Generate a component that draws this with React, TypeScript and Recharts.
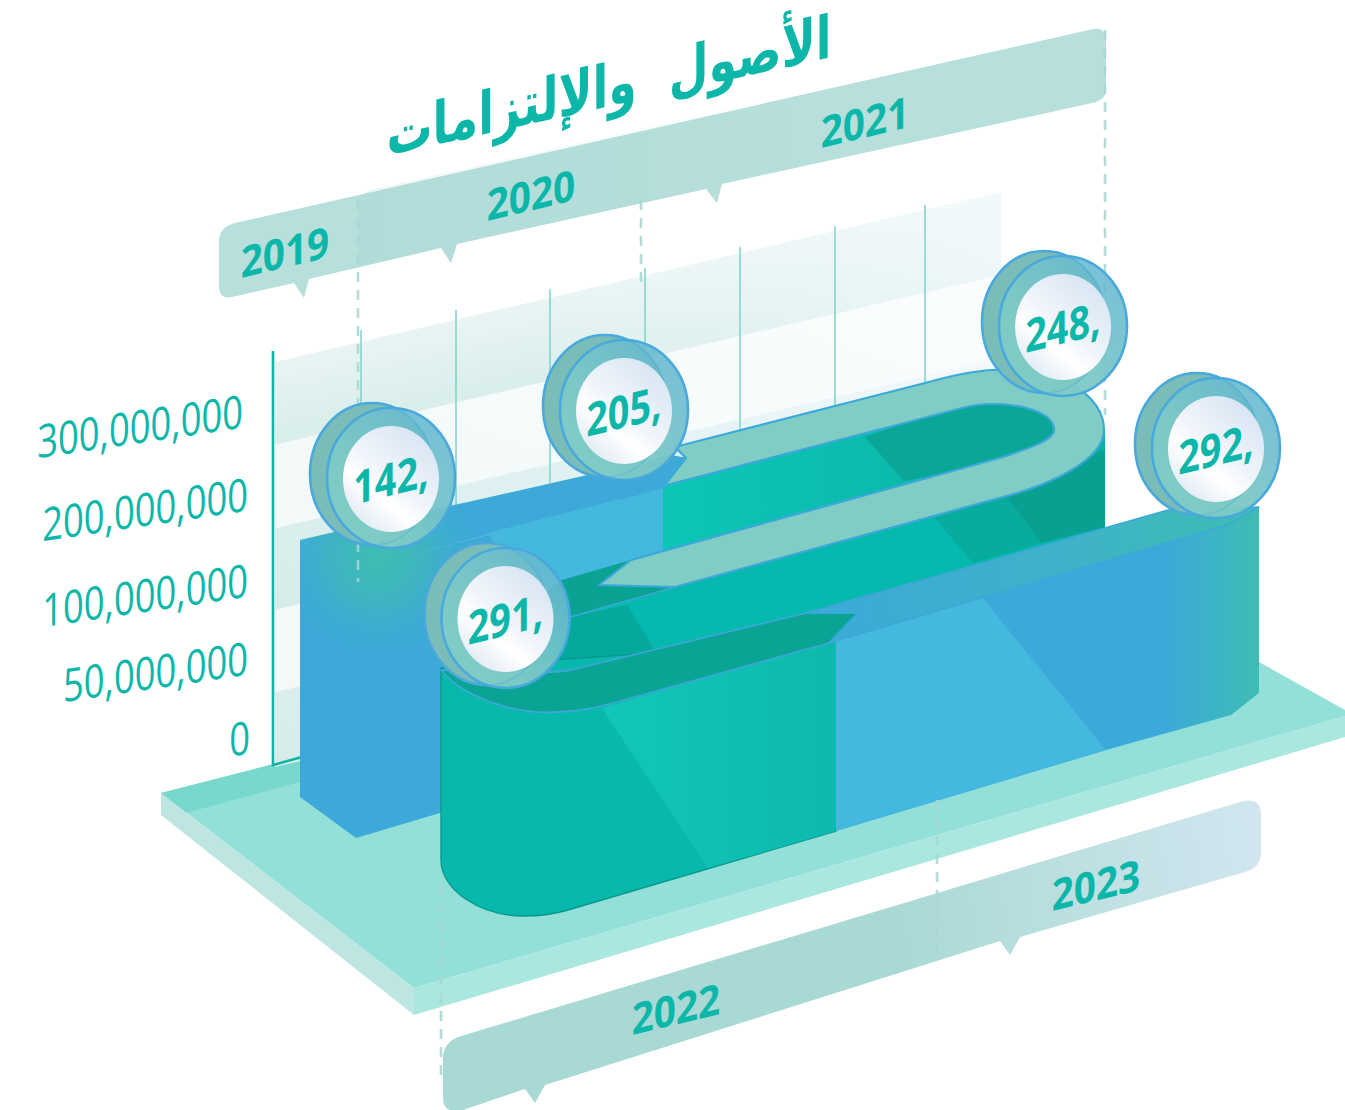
import React from 'react';
import { ComposedChart, Line, XAxis, YAxis, Customized } from 'recharts';

// ---- data ----
const backYears = [2019, 2020, 2021];
const backValues = [142000000, 205000000, 248000000];
const frontYears = [2022, 2023];
const frontValues = [291000000, 292000000];
const axisTicks = [0, 50000000, 100000000, 200000000, 300000000];
const chartTitle = 'الأصول  والإلتزامات';

const backRows = backYears.map((year, i) => ({ year, value: backValues[i] }));
const frontRows = frontYears.map((year, i) => ({ year, value: frontValues[i] }));

// ---- isometric layout: the picture warps its axes, so each axis gets a piecewise scale ----
const W = 1345;
const H = 1110;
function warp(domainStops: number[], pixelStops: number[], full: number, flip: boolean) {
  const frac = pixelStops.map((p) => (flip ? (full - p) / full : p / full));
  const make = (dom: number[], ran: number[]) => {
    const s: any = (v: number) => {
      let i = 0;
      while (i < domainStops.length - 2 && v > domainStops[i + 1]) i += 1;
      const t = (v - domainStops[i]) / (domainStops[i + 1] - domainStops[i]);
      const f = frac[i] + (frac[i + 1] - frac[i]) * t;
      return ran[0] + (ran[1] - ran[0]) * f;
    };
    s.domain = (d?: number[]) => (d ? make(d, ran) : dom);
    s.range = (r?: number[]) => (r ? make(dom, r) : ran);
    s.copy = () => make(dom, ran);
    s.ticks = () => domainStops;
    s.tickFormat = () => (v: number) => String(v);
    return s;
  };
  return make([domainStops[0], domainStops[domainStops.length - 1]], [0, 1]);
}
const backX = warp(backYears, [391, 624, 1063], W, false);
const backY = warp(backValues, [479, 411, 327], H, true);
const frontX = warp(frontYears, [505.5, 1216], W, false);
const frontY = warp(frontValues, [619, 449], H, true);
const tickY = warp(axisTicks, [737, 658, 580, 494, 411], H, true);
const tickRight: Record<number, number> = { 0: 250, 50000000: 248, 100000000: 248, 200000000: 248, 300000000: 243 };

const TEAL_TEXT = '#0cb7a9';
const EDGE = '#3ca8d8';
const NUM_FONT = '"Open Sans", "Noto Sans", sans-serif';

const Poly = ({ d, fill, stroke, sw }: any) => (
  <path d={d} fill={fill} stroke={stroke || 'none'} strokeWidth={sw || 0} strokeLinejoin="round" />
);

const wallSlope = 0.234;
const bandPath = (a: number, b: number) => {
  const x0 = 275;
  const x1 = 1001;
  const dy = (x1 - x0) * wallSlope;
  return `M${x0},${a} L${x1},${a - dy} L${x1},${b - dy} L${x0},${b} Z`;
};
const darkBands = [[528, 610], [692, 767]];
const lightBands = [[445, 528], [610, 692]];
const gridLines = [[361, 330], [456, 310], [550, 289], [645, 268], [740, 247], [835, 226], [925, 205]];

const yearLabelSpots: Record<number, number[]> = {
  2019: [285, 252],
  2020: [531, 195],
  2021: [865, 122],
  2022: [676, 1009],
  2023: [1096, 885],
};

const Defs = () => (
  <defs>
    <linearGradient id="bandTop" gradientUnits="userSpaceOnUse" x1="480" y1="290" x2="500" y2="385">
      <stop offset="0" stopColor="#eef7f7" />
      <stop offset="1" stopColor="#daeeec" />
    </linearGradient>
    <linearGradient id="bandFade" gradientUnits="userSpaceOnUse" x1="560" y1="0" x2="1001" y2="0">
      <stop offset="0" stopColor="#f4fafd" stopOpacity="0" />
      <stop offset="1" stopColor="#f4fafd" stopOpacity="0.75" />
    </linearGradient>
    <linearGradient id="bandDark" x1="1" y1="0" x2="0" y2="1">
      <stop offset="0" stopColor="#f3f9fd" />
      <stop offset="0.45" stopColor="#e2f2f4" />
      <stop offset="1" stopColor="#d7ecea" />
    </linearGradient>
    <linearGradient id="bandLight" x1="1" y1="0" x2="0" y2="1">
      <stop offset="0" stopColor="#fbfdfe" />
      <stop offset="1" stopColor="#f2f9f8" />
    </linearGradient>
    <linearGradient id="bannerShade" gradientUnits="userSpaceOnUse" x1="358" y1="0" x2="800" y2="0">
      <stop offset="0" stopColor="#8fcdc8" stopOpacity="0.16" />
      <stop offset="1" stopColor="#8fcdc8" stopOpacity="0" />
    </linearGradient>
    <linearGradient id="bottomBanner" gradientUnits="userSpaceOnUse" x1="443" y1="1000" x2="1261" y2="880">
      <stop offset="0" stopColor="#a9d9d5" />
      <stop offset="0.55" stopColor="#a9d9d5" />
      <stop offset="1" stopColor="#d1e6ef" />
    </linearGradient>
    <linearGradient id="wall2021" gradientUnits="userSpaceOnUse" x1="663" y1="0" x2="1105" y2="0">
      <stop offset="0" stopColor="#0cc6b8" />
      <stop offset="1" stopColor="#0ab0a3" />
    </linearGradient>
    <linearGradient id="wall2022" gradientUnits="userSpaceOnUse" x1="602" y1="0" x2="836" y2="0">
      <stop offset="0" stopColor="#11c7b9" />
      <stop offset="1" stopColor="#0db9ac" />
    </linearGradient>
    <linearGradient id="strip2023" gradientUnits="userSpaceOnUse" x1="806" y1="0" x2="1259" y2="0">
      <stop offset="0" stopColor="#3ca9d9" />
      <stop offset="0.55" stopColor="#3eb2c9" />
      <stop offset="1" stopColor="#3ebcb3" />
    </linearGradient>
    <linearGradient id="face2023" gradientUnits="userSpaceOnUse" x1="1110" y1="0" x2="1259" y2="0">
      <stop offset="0" stopColor="#3ba9d9" />
      <stop offset="0.35" stopColor="#3ba9d9" />
      <stop offset="1" stopColor="#3ebdb3" />
    </linearGradient>
    <radialGradient id="blockGlow" gradientUnits="userSpaceOnUse" cx="378" cy="556" r="105">
      <stop offset="0" stopColor="#3fbdb1" />
      <stop offset="0.45" stopColor="#3fb8ba" stopOpacity="0.75" />
      <stop offset="1" stopColor="#3ba9d9" stopOpacity="0" />
    </radialGradient>
    <linearGradient id="coinRing" x1="1" y1="0" x2="0" y2="1">
      <stop offset="0" stopColor="#5fb3d3" stopOpacity="0.85" />
      <stop offset="0.6" stopColor="#7cc9c6" stopOpacity="0.95" />
      <stop offset="1" stopColor="#82cec4" />
    </linearGradient>
    <linearGradient id="coinFace" x1="0.85" y1="0.05" x2="0.15" y2="0.95">
      <stop offset="0" stopColor="#d6e4f2" />
      <stop offset="0.5" stopColor="#f1f5fb" />
      <stop offset="0.68" stopColor="#ffffff" />
      <stop offset="1" stopColor="#dde8f4" />
    </linearGradient>
  </defs>
);

const Backdrop = () => (
  <g>
    <Defs />
    {/* platform */}
    <Poly d="M161,793 L1081,563 L1345,710 L1345,716 L414,988 Z" fill="#92e0d8" />
    <Poly d="M161,793 L300,757 L300,782 L178,815 Z" fill="#79d8cc" />
    <Poly d="M161,793 L414,988 L414,1015 L161,815 Z" fill="#bde5e1" />
    <Poly d="M414,988 L1345,716 L1345,737 L414,1015 Z" fill="#a9e7e0" />

    {/* back wall */}
    <Poly d={bandPath(362, 445)} fill="url(#bandTop)" />
    {darkBands.map(([a, b]) => <Poly key={a} d={bandPath(a, b)} fill="url(#bandDark)" />)}
    {lightBands.map(([a, b]) => <Poly key={a} d={bandPath(a, b)} fill="url(#bandLight)" />)}
    <Poly d={bandPath(362, 445)} fill="url(#bandFade)" />
    {gridLines.map(([x, top]) => <line key={x} x1={x} x2={x} y1={top} y2={620} stroke="#86d4cd" strokeWidth={1.6} />)}

    {/* value axis line */}
    <path d="M273,351 L273,765 L302,757" fill="none" stroke="#0db5a8" strokeWidth={2.6} />

    {/* top banner */}
    <Poly
      d="M235,223 L1093,29 Q1106,27 1106,42 L1106,90 Q1106,100 1092,103 L722,184 L717,203 L706,189 L457,244 L451,263 L441,248 L309,279 L304,298 L294,283 L232,297 Q219,300 219,285 L219,240 Q220,227 235,223 Z"
      fill="#b7dfdc"
    />
    <Poly d="M370,190 L800,93 L800,170 L722,184 L717,203 L706,189 L457,244 L451,263 L441,248 L358,267 L358,205 Q359,193 370,190 Z" fill="url(#bannerShade)" />

    {/* 2019-2021 block */}
    <Poly d="M300,540 L356,570 L356,838 L300,797 Z" fill="#3ca9d8" />
    <Poly d="M356,570 L663,488 L663,760 L440,813 L356,838 Z" fill="#3ca9d8" />
    <Poly d="M300,540 L671,456 L686,458 L663,488 L356,570 Z" fill="#3ca9d8" />
    <Poly d="M488,533 L663,488 L663,560 L540,620 Z" fill="#45b8e0" />
    <Poly d="M300,540 L500,493 L500,690 L356,690 L300,690 Z" fill="url(#blockGlow)" />

    {/* 2021 wall behind the ribbon */}
    <Poly d="M663,470 L962,392 L1060,398 L1105,430 L1105,560 L663,700 Z" fill="url(#wall2021)" />
    <Poly d="M865,437 L970,400 L1040,400 L1060,430 L1010,460 L904,481 Z" fill="#0aa698" />
    <Poly d="M540,625 L675,587 L1003,490 L1105,460 L1105,527 L806,613 L571,672 L530,672 Z" fill="#05b9ae" />
    <Poly d="M934,517 L1003,492 L1042,543 L973,563 Z" fill="#08ac9f" />
    <Poly d="M1003,492 L1105,450 L1105,527 L1042,543 Z" fill="#099f91" />
    <Poly d="M567,618 L627,605 L656,652 L571,672 L530,672 L530,630 Z" fill="#04a89d" />
    <Poly d="M562,580 L631,560 L599,585 L675,587 L567,618 L535,628 L535,600 Z" fill="#09a293" />
    <path d="M567,618 L675,587" stroke={EDGE} strokeWidth={1.6} fill="none" />

    {/* ribbon */}
    <Poly
      d="M675,447 L925,383 C950,376 975,371 992,370 C1060,367 1104,395 1104,430 C1104,460 1050,485 1003,497 L675,587 L599,585 L631,560 L1003,457 C1030,448 1054,440 1054,430 C1054,412 1020,404 994,404 C985,404 972,405 962,408 L663,486 L686,458 Z"
      fill="#80cdc6"
      stroke={EDGE}
      sw={2.2}
    />
    <Poly d="M620,468 L671,455 L687,458 L664,488 L620,500 Z" fill="#3ca9d8" />

    {/* 2022 wall and ribbon */}
    <Poly
      d="M441,668 L441,860 C441,890 480,916 524,916 C540,916 555,914 568,910 L836,831 L836,640 L441,668 Z"
      fill="#09b8ac"
      stroke="#07998e"
      sw={1.4}
    />
    <Poly d="M602,708 L836,640 L836,831 L708,868 Z" fill="url(#wall2022)" />
    <Poly
      d="M441,670 C466,700 520,715 558,712 C580,711 600,707 617,702 L829,643 L858,613 L806,613 L571,670 C560,672 552,672 544,672 Z"
      fill="#0aa495"
      stroke={EDGE}
      sw={1.8}
    />

    {/* 2023 wall */}
    <Poly d="M836,640 L1227,518 L1259,507 L1259,693 L1231,715 L1106,750 L836,831 Z" fill="url(#face2023)" />
    <Poly d="M836,640 L981,596 L1106,750 L836,831 Z" fill="#45b8e0" />
    <Poly d="M806,613 L1168,510 L1259,507 L1227,525 L829,643 L858,613 Z" fill="url(#strip2023)" stroke={EDGE} sw={1.4} />

    {/* bottom banner */}
    <Poly
      d="M458,1037 L1240,802 Q1261,796 1261,815 L1261,852 Q1261,868 1245,872 L1020,937 L1010,955 L1000,941 L545,1085 L535,1103 L525,1089 L463,1110 L450,1110 Q443,1108 443,1098 L443,1055 Q445,1042 458,1037 Z"
      fill="url(#bottomBanner)"
    />

    {/* dashed guides */}
    {[[358, 200, 582], [641, 200, 285], [1105, 30, 415], [441, 885, 1082], [937, 800, 952]].map(([x, a, b]) => (
      <line key={x} x1={x} x2={x} y1={a} y2={b} stroke="#a9d7d3" strokeWidth={2.6} strokeDasharray="10 8" opacity={0.85} />
    ))}

    {/* title */}
    <text
      transform="translate(609,85) skewY(-12.5) scale(0.85,1.1)"
      textAnchor="middle"
      dy="0.36em"
      direction="rtl"
      fontFamily='"DejaVu Sans", sans-serif'
      fontWeight={700}
      fontSize={54}
      fill={TEAL_TEXT}
      style={{ whiteSpace: 'pre' }}
    >
      {chartTitle}
    </text>

    {/* year labels */}
    {[...backYears, ...frontYears].map((y) => (
      <text
        key={y}
        transform={`translate(${yearLabelSpots[y][0]},${yearLabelSpots[y][1]}) skewY(-13.5) scale(0.9,1)`}
        textAnchor="middle"
        dy="0.36em"
        fontFamily={NUM_FONT}
        fontWeight={700}
        fontSize={43}
        fill={TEAL_TEXT}
      >
        {y}
      </text>
    ))}
  </g>
);

const Coin = ({ cx, cy, value }: any) => {
  if (cx == null || cy == null) return null;
  return (
    <g>
      <ellipse cx={cx - 19} cy={cy - 5} rx={62} ry={71} fill="#7abdb8" stroke="#4aa9dc" strokeWidth={2.6} />
      <ellipse cx={cx} cy={cy - 1} rx={64} ry={70} fill="url(#coinRing)" stroke="#4aa9dc" strokeWidth={2.6} />
      <ellipse cx={cx - 19} cy={cy - 5} rx={62} ry={71} fill="none" stroke="#4aa9dc" strokeWidth={1.4} opacity={0.4} />
      <ellipse cx={cx} cy={cy} rx={48} ry={53} fill="url(#coinFace)" />
      <text
        transform={`translate(${cx},${cy}) skewY(-14) scale(0.82,1)`}
        textAnchor="middle"
        dy="0.36em"
        fontFamily={NUM_FONT}
        fontWeight={700}
        fontSize={46}
        fill={TEAL_TEXT}
      >
        {`${Math.floor(value / 1000000)},`}
      </text>
    </g>
  );
};

const ValueTick = ({ y, payload }: any) => (
  <text
    transform={`translate(${tickRight[payload.value]},${y}) skewY(-8.5) scale(0.79,1)`}
    textAnchor="end"
    dy="0.36em"
    fontFamily={NUM_FONT}
    fontWeight={500}
    fontSize={46}
    fill={TEAL_TEXT}
  >
    {payload.value.toLocaleString('en-US')}
  </text>
);

export default function App() {
  return (
    <div style={{ position: 'absolute', left: 0, top: 0, width: W, height: H, overflow: 'hidden', background: '#fff' }}>
      <ComposedChart width={W} height={H} margin={{ top: 0, right: 0, bottom: 0, left: 0 }}>
        <XAxis xAxisId="back" dataKey="year" type="number" domain={[2019, 2021]} scale={backX} hide />
        <XAxis xAxisId="front" dataKey="year" type="number" domain={[2022, 2023]} scale={frontX} hide />
        <YAxis yAxisId="back" type="number" domain={[backValues[0], backValues[2]]} scale={backY} hide />
        <YAxis yAxisId="front" type="number" domain={[frontValues[0], frontValues[1]]} scale={frontY} hide />
        <Customized component={Backdrop} />
        <YAxis
          yAxisId="value"
          type="number"
          mirror
          width={60}
          domain={[0, 300000000]}
          ticks={axisTicks}
          scale={tickY}
          interval={0}
          allowDataOverflow
          axisLine={false}
          tickLine={false}
          tick={<ValueTick />}
        />
        <Line
          data={frontRows}
          dataKey="value"
          xAxisId="front"
          yAxisId="value"
          stroke="none"
          dot={false}
          isAnimationActive={false}
        />
        <Line
          data={backRows}
          dataKey="value"
          xAxisId="back"
          yAxisId="back"
          stroke="none"
          isAnimationActive={false}
          dot={(p: any) => <Coin key={p.payload.year} {...p} />}
        />
        <Line
          data={frontRows}
          dataKey="value"
          xAxisId="front"
          yAxisId="front"
          stroke="none"
          isAnimationActive={false}
          dot={(p: any) => <Coin key={p.payload.year} {...p} />}
        />
      </ComposedChart>
    </div>
  );
}
